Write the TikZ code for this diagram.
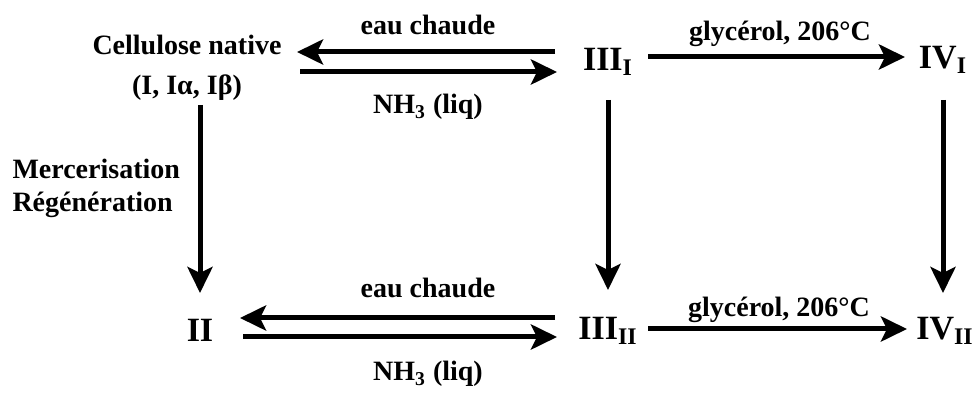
\documentclass[tikz,border=0pt]{standalone}
\usepackage{fontspec}
\setmainfont{Liberation Serif}
\usetikzlibrary{arrows.meta,calc}

\begin{document}
\begin{tikzpicture}[->,line width=2.5pt,>={Stealth[length=13pt,width=12.5pt,inset=3pt]},x=0.5pt,y=-0.5pt]
    \tikzstyle{form}=[inner sep=0pt, text=black, font=\fontsize{14}{19}\bfseries\selectfont]
    \tikzstyle{phase}=[style=form, font=\fontsize{17}{19}\bfseries\selectfont]
    \tikzstyle{cond}=[style=form, font=\fontsize{14}{16.5}\bfseries\selectfont]

    \useasboundingbox (0,0) rectangle (974,394);

    \node[form, align=center] (native) at (187,68)  {Cellulose native\\[1pt](I, Iα, Iβ)};
    \node[phase] (ii)   at (200,330) {II};
    \node[phase] (iii1) at (608,62)  {III\textsubscript{I}};
    \node[phase] (iv1)  at (943,60)  {IV\textsubscript{I}};
    \node[phase] (iii2) at (608,331) {III\textsubscript{II}};
    \node[phase] (iv2)  at (945,331) {IV\textsubscript{II}};

    \node[cond] (eau1) at (428,25)  {eau chaude};
    \node[cond] (nh1)  at (428,107) {NH\textsubscript{3} (liq)};
    \node[cond] (gly1) at (780,34)  {glycérol, 206°C};
    \node[cond] (eau2) at (428,288) {eau chaude};
    \node[cond] (nh2)  at (428,374) {NH\textsubscript{3} (liq)};
    \node[cond] (gly2) at (779,310) {glycérol, 206°C};
    \node[cond, align=left, anchor=west] (merc) at (10,188) {Mercerisation\\Régénération};

    \path
     ($(iii1)+(-53,-10)$) edge ($(native)+(110,-16)$)
     ($(native)+(113,4)$) edge ($(iii1)+(-51,10)$)
     ($(iii1)+(40,-5)$)   edge ($(iv1)+(-38,-3)$)
     ($(native)+(13,37)$) edge ($(ii)+(0,-37)$)
     ($(iii1)+(0,38)$)    edge ($(iii2)+(0,-41)$)
     ($(iv1)+(0,40)$)     edge ($(iv2)+(-2,-38)$)
     ($(iii2)+(-53,-13)$) edge ($(ii)+(40,-12)$)
     ($(ii)+(43,7)$)      edge ($(iii2)+(-51,6)$)
     ($(iii2)+(40,-2)$)   edge ($(iv2)+(-38,-2)$)
     ;
\end{tikzpicture}
\end{document}
